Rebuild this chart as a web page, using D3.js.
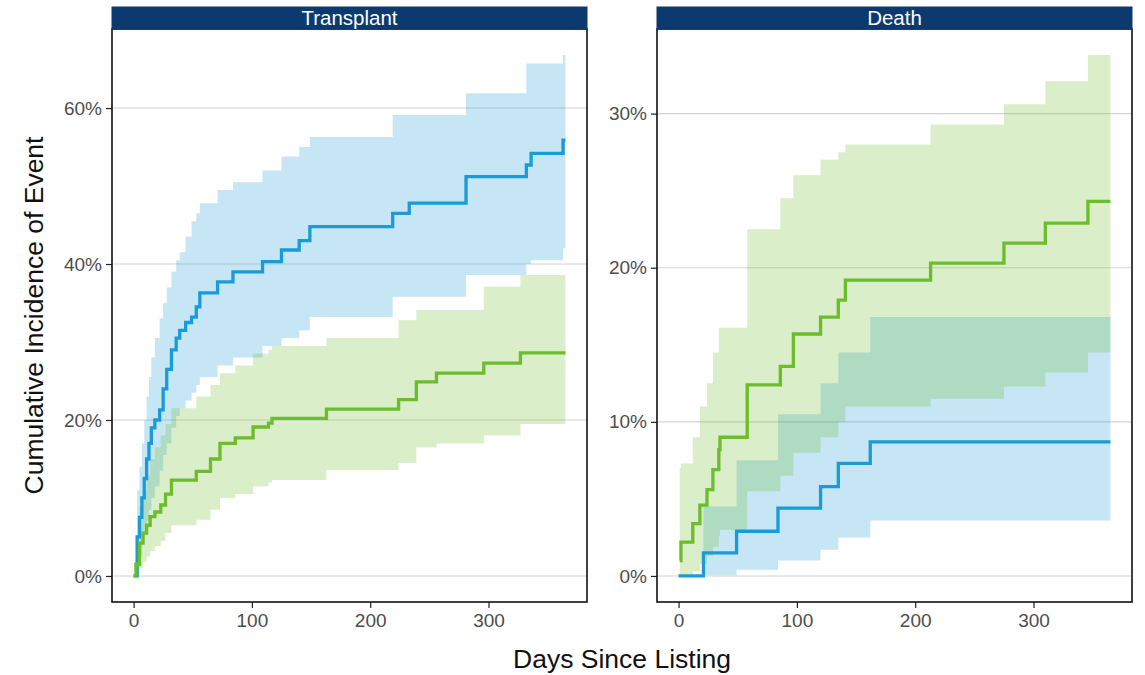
<!DOCTYPE html>
<html><head><meta charset="utf-8">
<script src="https://cdn.jsdelivr.net/npm/d3@7"></script>
<style>body{margin:0;background:#fff}svg{display:block}text{font-family:"Liberation Sans",Arial,sans-serif}</style>
</head><body><svg id="c" width="1145" height="675"></svg>
<script>
// ---------- data ----------
const panelTitles = ["Transplant", "Death"];
const xTicks = [0, 100, 200, 300];
const yTicksTransplant = [0, 20, 40, 60];
const yTicksDeath = [0, 10, 20, 30];
const xLabel = "Days Since Listing";
const yLabel = "Cumulative Incidence of Event";

// Transplant, blue group
const txBlueDays = [0, 3, 5, 7, 9, 11, 13, 15, 18, 22, 25, 28, 32, 36, 39, 44, 49, 53, 56, 71, 84, 109, 125, 140, 149, 219, 233, 281, 332, 336, 363, 365];
const txBlueEst  = [0, 5.0, 7.5, 10, 12.5, 15, 17, 19, 20, 21.3, 24, 26.5, 29, 30.5, 31.5, 32.5, 33.2, 34.5, 36.3, 37.7, 39, 40.3, 41.8, 43, 44.8, 46.5, 47.8, 51.2, 52.7, 54.2, 55.9, 55.9];
const txBlueLo   = [0, 1, 2.5, 4, 5.5, 7, 8.5, 10, 11.5, 13.5, 15.5, 17, 19, 20.5, 21.5, 22.5, 23.5, 24.5, 25.5, 27, 28, 29.5, 30.5, 31.5, 33.2, 35.8, 35.8, 38.6, 40, 40.5, 42, 42];
const txBlueHi   = [0, 11, 14, 17, 20, 23, 25.5, 28, 30.5, 33, 35, 37, 39, 40.5, 41.5, 43.5, 45.5, 46.5, 47.8, 49.5, 50.5, 52, 53.8, 55, 56.3, 59.1, 59.1, 61.9, 65.7, 65.7, 66.8, 66.8];

// Transplant, green group
const txGreenDays = [0, 2, 5, 8, 11, 14, 18, 23, 27, 32, 53, 65, 73, 86, 101, 114, 117, 163, 224, 239, 256, 296, 327, 365];
const txGreenEst  = [0, 1.5, 4.2, 5.5, 6.5, 7.6, 8.2, 9.1, 10.5, 12.3, 13.4, 15, 17, 17.7, 19.1, 19.6, 20.2, 21.4, 22.6, 24.9, 26, 27.3, 28.6, 28.6];
const txGreenLo   = [0, 0.2, 1, 1.8, 2.5, 3.2, 3.8, 4.5, 5.5, 6.5, 7.2, 8.5, 10, 10.5, 11.5, 12, 12.3, 13.6, 14.5, 16.5, 17, 18, 19.5, 19.5];
const txGreenHi   = [0, 4, 9, 11, 13, 15, 16.5, 18, 19.5, 21.5, 23, 24.5, 26, 27, 28.5, 29, 29.5, 30.5, 32.8, 34.1, 34.1, 37.1, 38.6, 38.6];

// Death, blue group
const dBlueDays = [0, 21, 49, 84, 120, 135, 162, 365];
const dBlueEst  = [0, 1.5, 2.9, 4.4, 5.8, 7.3, 8.7, 8.7];
const dBlueLo   = [0, 0.05, 0.4, 1.0, 1.7, 2.5, 3.6, 3.6];
const dBlueHi   = [0, 4.5, 7.5, 10.5, 12.5, 14.5, 16.8, 16.8];

// Death, green group
const dGreenDays = [1, 2, 12, 18, 24, 29, 34, 35, 58, 86, 97, 120, 135, 141, 213, 275, 310, 346, 365];
const dGreenEst  = [1.0, 2.2, 3.4, 4.6, 5.6, 6.9, 8.2, 9.0, 12.4, 13.6, 15.7, 16.8, 17.9, 19.2, 20.3, 21.6, 22.9, 24.3, 24.3];
const dGreenLo   = [0, 0, 0.3, 0.8, 1.3, 1.9, 2.6, 3.0, 5.5, 6.5, 8, 9, 10, 11, 11.5, 12.3, 13.2, 14.5, 14.5];
const dGreenHi   = [7.0, 7.3, 9, 11, 12.5, 14.5, 16.1, 16.1, 22.5, 24.5, 26, 27, 27.5, 28, 29.3, 30.6, 32.1, 33.8, 33.8];

// ---------- build ----------
const BLUE = "#1a9ad7", GREEN = "#6bbd2b";
const mk = (days, est, lo, hi, color) => ({color, pts: days.map((d, i) => ({d, e: est[i], lo: lo[i], hi: hi[i]}))});
const panels = [
  {title: panelTitles[0], yTicks: yTicksTransplant, series: [mk(txBlueDays, txBlueEst, txBlueLo, txBlueHi, BLUE), mk(txGreenDays, txGreenEst, txGreenLo, txGreenHi, GREEN)], x0: 112},
  {title: panelTitles[1], yTicks: yTicksDeath, series: [mk(dBlueDays, dBlueEst, dBlueLo, dBlueHi, BLUE), mk(dGreenDays, dGreenEst, dGreenLo, dGreenHi, GREEN)], x0: 657}
];

const svg = d3.select("#c");
const PW = 475, PT = 29, PB = 602, STRIP = 22;

panels.forEach(p => {
  const allDays = p.series.flatMap(s => s.pts.map(q => q.d));
  const allVals = p.series.flatMap(s => s.pts.flatMap(q => [q.lo, q.hi, q.e]));
  const xmin = 0, xmax = d3.max(allDays);
  const ymin = 0, ymax = d3.max(allVals);
  const xe = (xmax - xmin) * 0.05, ye = (ymax - ymin) * 0.05;
  const x = d3.scaleLinear().domain([xmin - xe, xmax + xe]).range([p.x0, p.x0 + PW]);
  const y = d3.scaleLinear().domain([ymin - ye, ymax + ye]).range([PB, PT]);

  const g = svg.append("g");
  // gridlines
  g.selectAll("line.grid").data(p.yTicks).join("line")
    .attr("x1", p.x0).attr("x2", p.x0 + PW)
    .attr("y1", d => y(d)).attr("y2", d => y(d))
    .attr("stroke", "#d4d4d4").attr("stroke-width", 1.1);

  const clipId = "clip" + p.x0;
  svg.append("clipPath").attr("id", clipId).append("rect")
    .attr("x", p.x0).attr("y", PT).attr("width", PW).attr("height", PB - PT);
  const plot = g.append("g").attr("clip-path", `url(#${clipId})`);

  const area = d3.area().curve(d3.curveStepAfter).x(q => x(q.d)).y0(q => y(q.lo)).y1(q => y(q.hi));
  const line = d3.line().curve(d3.curveStepAfter).x(q => x(q.d)).y(q => y(q.e));
  p.series.forEach(s => {
    plot.append("path").attr("d", area(s.pts)).attr("fill", s.color).attr("fill-opacity", 0.25);
  });
  p.series.forEach(s => {
    plot.append("path").attr("d", line(s.pts)).attr("fill", "none").attr("stroke", s.color)
      .attr("stroke-width", 3.3).attr("stroke-linejoin", "miter");
  });

  // axes
  const ax = d3.axisBottom(x).tickValues(xTicks).tickSize(6).tickPadding(4).tickFormat(d3.format("d"));
  const gx = g.append("g").attr("transform", `translate(0,${PB})`).call(ax);
  const ay = d3.axisLeft(y).tickValues(p.yTicks).tickSize(6).tickPadding(4).tickFormat(d => d + "%");
  const gy = g.append("g").attr("transform", `translate(${p.x0},0)`).call(ay);
  [gx, gy].forEach(a => {
    a.select(".domain").remove();
    a.selectAll(".tick line").attr("stroke", "#222").attr("stroke-width", 1.2);
    a.selectAll(".tick text").attr("fill", "#4d4d4d").style("font-size", "19px");
  });
  gx.selectAll(".tick text").attr("dy", "0.8em");

  // panel border
  g.append("rect").attr("x", p.x0).attr("y", PT).attr("width", PW).attr("height", PB - PT)
    .attr("fill", "none").attr("stroke", "#111").attr("stroke-width", 1.6);
  // strip
  g.append("rect").attr("x", p.x0).attr("y", PT - STRIP).attr("width", PW).attr("height", STRIP)
    .attr("fill", "#0d3a6e").attr("stroke", "#0d3a6e").attr("stroke-width", 1);
  g.append("text").attr("x", p.x0 + PW / 2).attr("y", PT - STRIP / 2).attr("dy", "0.36em")
    .attr("text-anchor", "middle").attr("fill", "#fff").style("font-size", "20.5px").text(p.title);
});

svg.append("text").attr("x", (112 + 657 + PW) / 2).attr("y", 668).attr("text-anchor", "middle")
  .attr("fill", "#111").style("font-size", "26.5px").text(xLabel);
svg.append("text").attr("transform", `translate(43,${(PT + PB) / 2}) rotate(-90)`).attr("text-anchor", "middle")
  .attr("fill", "#111").style("font-size", "26.5px").text(yLabel);
</script></body></html>
